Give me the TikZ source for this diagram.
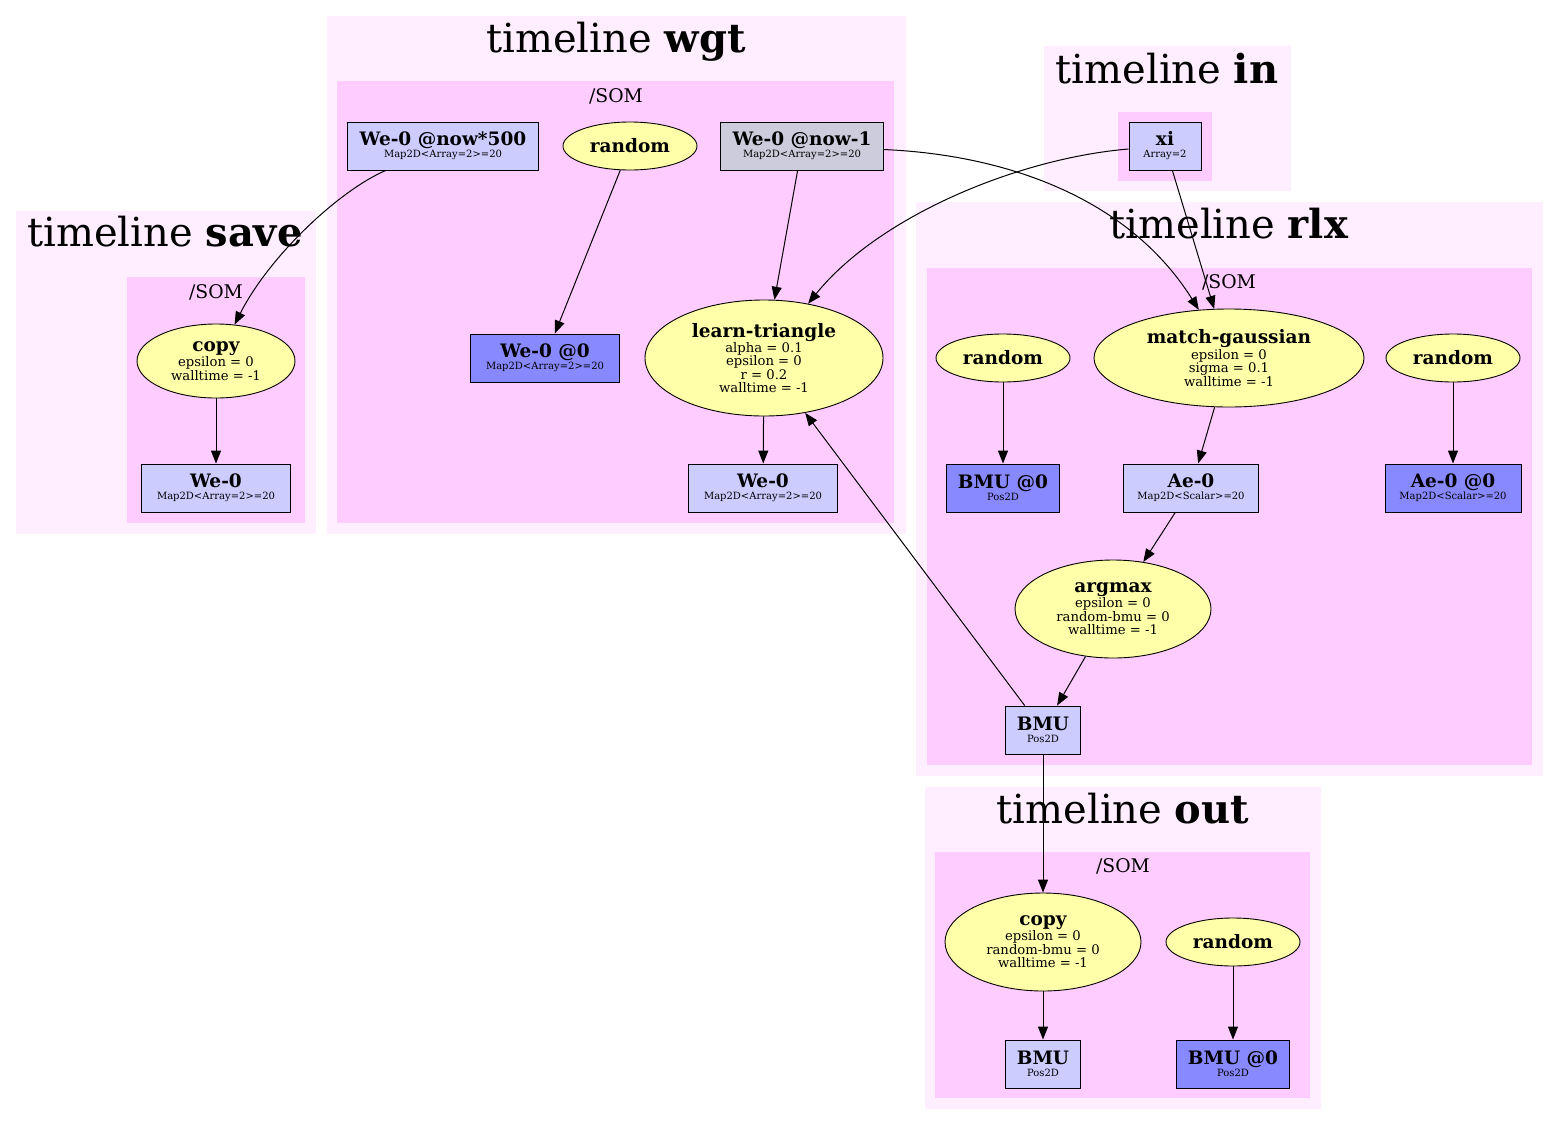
\documentclass[tikz,border=0pt]{standalone}
\usepackage{fontspec}
\setmainfont{DejaVu Serif}
\usetikzlibrary{shapes.geometric,arrows.meta}
\definecolor{outerc}{HTML}{FFEEFF}
\definecolor{innerc}{HTML}{FFCCFF}
\definecolor{opc}{HTML}{FFFFAA}
\definecolor{datc}{HTML}{CCCCFF}
\definecolor{initc}{HTML}{8888FF}
\definecolor{prevc}{HTML}{CCCCDD}
\newcommand{\nt}[1]{{\fontsize{18.5}{18.5}\selectfont\bfseries #1}}
\newcommand{\ns}[1]{{\fontsize{10}{10}\selectfont #1}}
\begin{document}
\begin{tikzpicture}[x=1pt,y=-1pt,
  outerbox/.style={fill=outerc,draw=none},
  innerbox/.style={fill=innerc,draw=none},
  ttl/.style={anchor=base,font=\fontsize{40}{40}\selectfont,inner sep=0pt},
  somlbl/.style={anchor=base,font=\fontsize{18.8}{18.8}\selectfont,inner sep=0pt},
  opnode/.style={ellipse,draw,fill=opc,inner sep=0pt,align=center,line width=0.9pt,
    font=\fontsize{13.2}{13.5}\selectfont},
  datnode/.style={rectangle,draw,fill=datc,inner sep=0pt,align=center,line width=0.9pt,
    minimum height=48pt,font=\fontsize{10}{12}\selectfont},
  initnode/.style={datnode,fill=initc},
  prevnode/.style={datnode,fill=prevc},
  edge/.style={-{Triangle[length=13pt,width=10pt]},line width=1pt}]
\useasboundingbox[fill=white] (0,0) rectangle (1559,1125);
% clusters
\fill[outerc] (16,211) rectangle (316,534);
\fill[innerc] (127,277) rectangle (305,523);
\fill[outerc] (327,16) rectangle (906,534);
\fill[innerc] (337,81) rectangle (894,523);
\fill[outerc] (1044,46) rectangle (1291,191);
\fill[innerc] (1118,112) rectangle (1212,181);
\fill[outerc] (916,202) rectangle (1543,776);
\fill[innerc] (927,268) rectangle (1532,765);
\fill[outerc] (925,787) rectangle (1321,1109);
\fill[innerc] (935,852) rectangle (1310,1098);
% titles
\node[ttl] (tsave) at (165,246) {timeline \textbf{save}};
\node[ttl] (twgt) at (616,52) {timeline \textbf{wgt}};
\node[ttl] (tin) at (1167,83) {timeline \textbf{in}};
\node[ttl] (trlx) at (1229,238) {timeline \textbf{rlx}};
\node[ttl] (tout) at (1123,823) {timeline \textbf{out}};
\node[somlbl] (ssave) at (216,298) {/SOM};
\node[somlbl] (swgt) at (616,102) {/SOM};
\node[somlbl] (srlx) at (1229,288) {/SOM};
\node[somlbl] (sout) at (1123,872) {/SOM};
% save
\node[opnode,minimum width=158pt,minimum height=74pt] (scopy) at (216,361) {\nt{copy}\\epsilon = 0\\walltime = -1};
\node[datnode,minimum width=149pt] (swe) at (216,488) {\nt{We-0}\\\ns{Map2D<Array=2>=20}};
% wgt
\node[datnode,minimum width=191pt] (w500) at (443,146) {\nt{We-0 @now*500}\\\ns{Map2D<Array=2>=20}};
\node[opnode,minimum width=134pt,minimum height=48pt] (wrand) at (630,146) {\nt{random}};
\node[prevnode,minimum width=163pt] (wm1) at (802,146) {\nt{We-0 @now-1}\\\ns{Map2D<Array=2>=20}};
\node[initnode,minimum width=149pt] (w0) at (545,358) {\nt{We-0 @0}\\\ns{Map2D<Array=2>=20}};
\node[opnode,minimum width=238pt,minimum height=116pt] (wlt) at (764,358) {\nt{learn-triangle}\\alpha = 0.1\\epsilon = 0\\r = 0.2\\walltime = -1};
\node[datnode,minimum width=149pt] (wwe) at (763,488) {\nt{We-0}\\\ns{Map2D<Array=2>=20}};
% in
\node[datnode,minimum width=72pt] (xi) at (1165,146) {\nt{xi}\\\ns{Array=2}};
% rlx
\node[opnode,minimum width=134pt,minimum height=48pt] (rrand1) at (1003,358) {\nt{random}};
\node[opnode,minimum width=270pt,minimum height=98pt] (rmg) at (1229,358) {\nt{match-gaussian}\\epsilon = 0\\sigma = 0.1\\walltime = -1};
\node[opnode,minimum width=134pt,minimum height=48pt] (rrand2) at (1453,358) {\nt{random}};
\node[initnode,minimum width=113pt] (rbmu0) at (1003,488) {\nt{BMU @0}\\\ns{Pos2D}};
\node[datnode,minimum width=135pt] (rae) at (1191,488) {\nt{Ae-0}\\\ns{Map2D<Scalar>=20}};
\node[initnode,minimum width=136pt] (rae0) at (1453,488) {\nt{Ae-0 @0}\\\ns{Map2D<Scalar>=20}};
\node[opnode,minimum width=196pt,minimum height=98pt] (rarg) at (1113,609) {\nt{argmax}\\epsilon = 0\\random-bmu = 0\\walltime = -1};
\node[datnode,minimum width=75pt] (rbmu) at (1043,730) {\nt{BMU}\\\ns{Pos2D}};
% out
\node[opnode,minimum width=196pt,minimum height=98pt] (ocopy) at (1043,942) {\nt{copy}\\epsilon = 0\\random-bmu = 0\\walltime = -1};
\node[opnode,minimum width=134pt,minimum height=48pt] (orand) at (1233,942) {\nt{random}};
\node[datnode,minimum width=75pt] (obmu) at (1043,1064) {\nt{BMU}\\\ns{Pos2D}};
\node[initnode,minimum width=113pt] (obmu0) at (1233,1064) {\nt{BMU @0}\\\ns{Pos2D}};
% edges
\draw[edge] (scopy) -- (swe);
\draw[edge] (w500) .. controls (340,190) and (270,255) .. (scopy);
\draw[edge] (wrand) -- (w0);
\draw[edge] (wm1) -- (wlt);
\draw[edge] (wlt) -- (wwe);
\draw[edge] (wm1) .. controls (1010,155) and (1130,200) .. (rmg);
\draw[edge] (xi) .. controls (1020,158) and (880,215) .. (wlt);
\draw[edge] (xi) -- (rmg);
\draw[edge] (rrand1) -- (rbmu0);
\draw[edge] (rrand2) -- (rae0);
\draw[edge] (rmg) -- (rae);
\draw[edge] (rae) -- (rarg);
\draw[edge] (rarg) -- (rbmu);
\draw[edge] (rbmu) -- (wlt);
\draw[edge] (rbmu) -- (ocopy);
\draw[edge] (ocopy) -- (obmu);
\draw[edge] (orand) -- (obmu0);
\end{tikzpicture}
\end{document}
